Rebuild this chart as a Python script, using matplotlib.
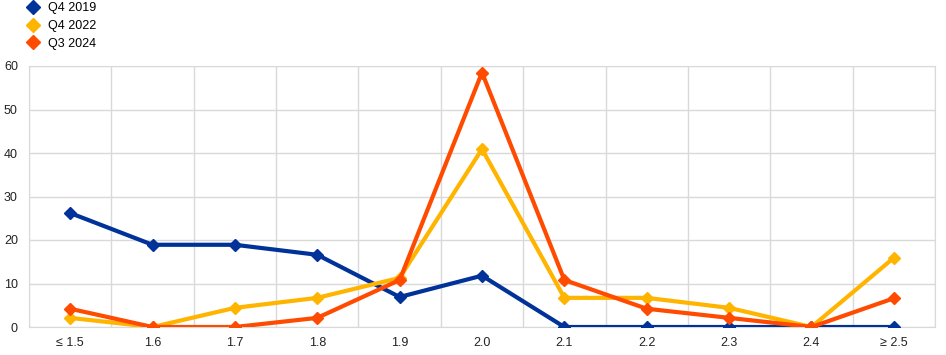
import numpy as np
import matplotlib
matplotlib.use('Agg')
import matplotlib.pyplot as plt

plt.rcParams['font.family'] = ['Liberation Sans', 'DejaVu Sans']
plt.rcParams['font.size'] = 9

categories = ['≤ 1.5', '1.6', '1.7', '1.8', '1.9', '2.0', '2.1', '2.2', '2.3', '2.4', '≥ 2.5']
q4_2019 = [26.2, 18.9, 18.9, 16.6, 6.9, 11.8, 0, 0, 0, 0, 0]
q4_2022 = [2.1, 0, 4.4, 6.7, 11.3, 40.9, 6.7, 6.7, 4.4, 0, 15.9]
q3_2024 = [4.2, 0, 0, 2.1, 10.8, 58.5, 10.8, 4.2, 2.1, 0, 6.6]

series = [('Q4 2019', q4_2019, '#003299'),
          ('Q4 2022', q4_2022, '#FFB400'),
          ('Q3 2024', q3_2024, '#FF4B00')]

fig = plt.figure(figsize=(9.46, 3.55), dpi=100)
ax = fig.add_axes([29/946, 28/355, 906/946, 261/355])

x = np.arange(len(categories))
for name, vals, col in series:
    ax.plot(x, vals, color=col, lw=3, marker='D', ms=6, label=name, zorder=3)

ax.set_xlim(-0.5, len(categories) - 0.5)
ax.set_ylim(0, 60)
ax.set_yticks(range(0, 61, 10))
ax.set_xticks(x)
ax.set_xticklabels(categories)
ax.set_xticks(np.arange(-0.5, len(categories), 1), minor=True)
ax.tick_params(axis='both', which='both', length=0, colors='#222222', labelsize=9)
ax.tick_params(axis='x', pad=7)
ax.tick_params(axis='y', pad=8)
ax.grid(axis='y', which='major', color='#d9d9d9', lw=1)
ax.grid(axis='x', which='minor', color='#d9d9d9', lw=1)
for s in ax.spines.values():
    s.set_color('#d9d9d9')

# legend sits above the plot, left-aligned with the chart
ax.legend(loc='upper left', bbox_to_anchor=(-10/906, 1 + 71/261), frameon=False,
          handlelength=1.0, handletextpad=0.75, labelspacing=0.45, borderaxespad=0.2,
          fontsize=9)
leg = ax.get_legend()
for h in leg.legend_handles:
    h.set_linestyle('none')
    h.set_markersize(7)

fig.savefig('out.png', dpi=100)
